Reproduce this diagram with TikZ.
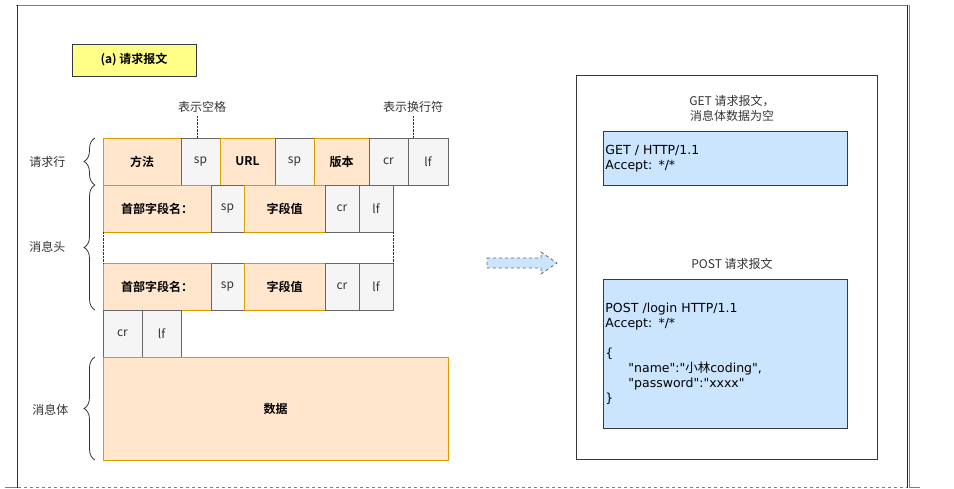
\documentclass[tikz,border=0pt]{standalone}
\usepackage{fontspec}
\setmainfont{Noto Sans CJK SC}[BoldFont={Noto Sans CJK SC Bold}]
\newfontfamily\codefont{DejaVu Sans}
\newfontfamily\cjkfont{Noto Sans CJK SC}
\newcommand\qq{\textquotedbl}
\usetikzlibrary{positioning,decorations.pathreplacing}

\definecolor{fieldfill}{HTML}{FFE6CC}
\definecolor{fieldline}{HTML}{D79B00}
\definecolor{ctrlfill}{HTML}{F5F5F5}
\definecolor{ctrlline}{HTML}{666666}
\definecolor{titlefill}{HTML}{FFFF88}
\definecolor{codefill}{HTML}{CCE5FF}
\definecolor{darkline}{HTML}{36393D}
\definecolor{labeltext}{HTML}{333333}

\begin{document}
\begin{tikzpicture}[x=1pt, y=-1pt,
    every node/.style={font=\fontsize{12}{15}\selectfont, text=labeltext},
    field/.style={draw=fieldline, fill=fieldfill, line width=0.9pt, minimum width=#1, minimum height=47pt,
        inner sep=0pt, outer sep=0pt, text=black, font=\fontsize{12}{15}\selectfont\bfseries},
    ctrl/.style={draw=ctrlline, fill=ctrlfill, line width=0.9pt, minimum width=#1, minimum height=47pt,
        inner sep=0pt, outer sep=0pt, text=black!80},
    ctrl/.default=39pt,
    bracket/.style={decorate, decoration={brace, amplitude=11pt}, draw=labeltext, line width=0.8pt},
    code/.style={draw=darkline, fill=codefill, line width=0.9pt, text width=240pt, inner xsep=2pt, inner ysep=0pt,
        align=left, text=black, font=\codefont\fontsize{12.5}{15}\selectfont}]
    \useasboundingbox (0,0) rectangle (954,488);

    % page frame
    \draw[line width=1.5pt, gray] (16,5.5) -- (908,5.5);
    \draw[line width=1.3pt, black!80] (17.5,5) -- (17.5,488);
    \draw[line width=1pt, black!85] (907,5) -- (907,488);
    \draw[line width=1pt, gray] (909.5,5) -- (909.5,488);
    \draw[dashed, gray] (18,487) -- (907,487);
    \draw[gray] (5,487) -- (17,487);
    \draw[gray] (910,487) -- (920,487);

    \node[draw=darkline, fill=titlefill, line width=0.9pt, minimum width=124pt, minimum height=32pt,
        text=black, font=\fontsize{12}{15}\selectfont\bfseries] (title) at (134,60) {(a)~请求报文};

    % request line
    \node[field=78pt, anchor=west] (method) at (103,161.5) {方法};
    \node[ctrl, right=0pt of method] (sp1) {sp};
    \node[field=55pt, right=0pt of sp1] (url) {URL};
    \node[ctrl, right=0pt of url] (sp2) {sp};
    \node[field=55pt, right=0pt of sp2] (version) {版本};
    \node[ctrl, right=0pt of version] (cr1) {cr};
    \node[ctrl=40pt, right=0pt of cr1] (lf1) {lf};

    \node (spnote) at (202,107) {表示空格};
    \node (nlnote) at (413,107) {表示换行符};
    \draw[densely dotted, labeltext] ([xshift=-5pt]spnote.south) -- ([xshift=-5pt]spnote.south |- sp1.north);
    \draw[densely dotted, labeltext] (nlnote.south) -- (nlnote.south |- lf1.north);

    % header lines
    \node[field=108pt, anchor=north west] (hname1) at (method.south west) {首部字段名：};
    \node[ctrl=33pt, right=0pt of hname1] (hsp1) {sp};
    \node[field=81pt, right=0pt of hsp1] (hval1) {字段值};
    \node[ctrl=34pt, right=0pt of hval1] (hcr1) {cr};
    \node[ctrl=34pt, right=0pt of hcr1] (hlf1) {lf};

    \node[field=108pt, below=31pt of hname1] (hname2) {首部字段名：};
    \node[ctrl=33pt, right=0pt of hname2] (hsp2) {sp};
    \node[field=81pt, right=0pt of hsp2] (hval2) {字段值};
    \node[ctrl=34pt, right=0pt of hval2] (hcr2) {cr};
    \node[ctrl=34pt, right=0pt of hcr2] (hlf2) {lf};

    \draw[densely dotted, labeltext] (hname1.south west) -- (hname2.north west);
    \draw[densely dotted, labeltext] (hlf1.south east) -- (hlf2.north east);

    % empty line and body
    \node[ctrl, anchor=north west] (cr4) at (hname2.south west) {cr};
    \node[ctrl, right=0pt of cr4] (lf4) {lf};
    \node[field=345pt, minimum height=103pt, anchor=north west] (body) at (cr4.south west) {数据};

    % braces
    \draw[bracket] ([xshift=-8pt]method.south west) -- ([xshift=-8pt]method.north west);
    \node[anchor=east] (reqline) at (69,161.5) {请求行};
    \draw[bracket] ([xshift=-8pt]hname2.south west) -- ([xshift=-8pt]hname1.north west);
    \node[anchor=east] (headers) at (69,247) {消息头};
    \draw[bracket] ([xshift=-8pt]body.south west) -- ([xshift=-8pt]body.north west);
    \node[anchor=east] (msgbody) at (72,410) {消息体};

    % arrow
    \draw[dashed, draw=ctrlline, fill=codefill, line width=0.8pt]
        (487,258) -- (541,258) -- (541,252) -- (557,263) -- (541,274) -- (541,268) -- (487,268) -- cycle;

    % examples
    \node[draw=darkline, line width=0.8pt, minimum width=301pt, minimum height=384pt, anchor=north west] (panel) at (576,75) {};
    \node[align=center] (getnote) at (732,108) {GET 请求报文，\\消息体数据为空};
    \node[code, minimum height=54pt, anchor=north west] (getmsg) at (603,131)
        {GET / HTTP/1.1\\Accept: */*};
    \node (postnote) at (732,264) {POST 请求报文};
    \node[code, minimum height=149pt, anchor=north west] (postmsg) at (603,279)
        {POST /login HTTP/1.1\\Accept: */*\\[15pt]
         \{\\\hspace*{23pt}\qq name\qq:\qq{\cjkfont 小林}coding\qq,\\\hspace*{23pt}\qq password\qq:\qq xxxx\qq\\\}};
\end{tikzpicture}
\end{document}
